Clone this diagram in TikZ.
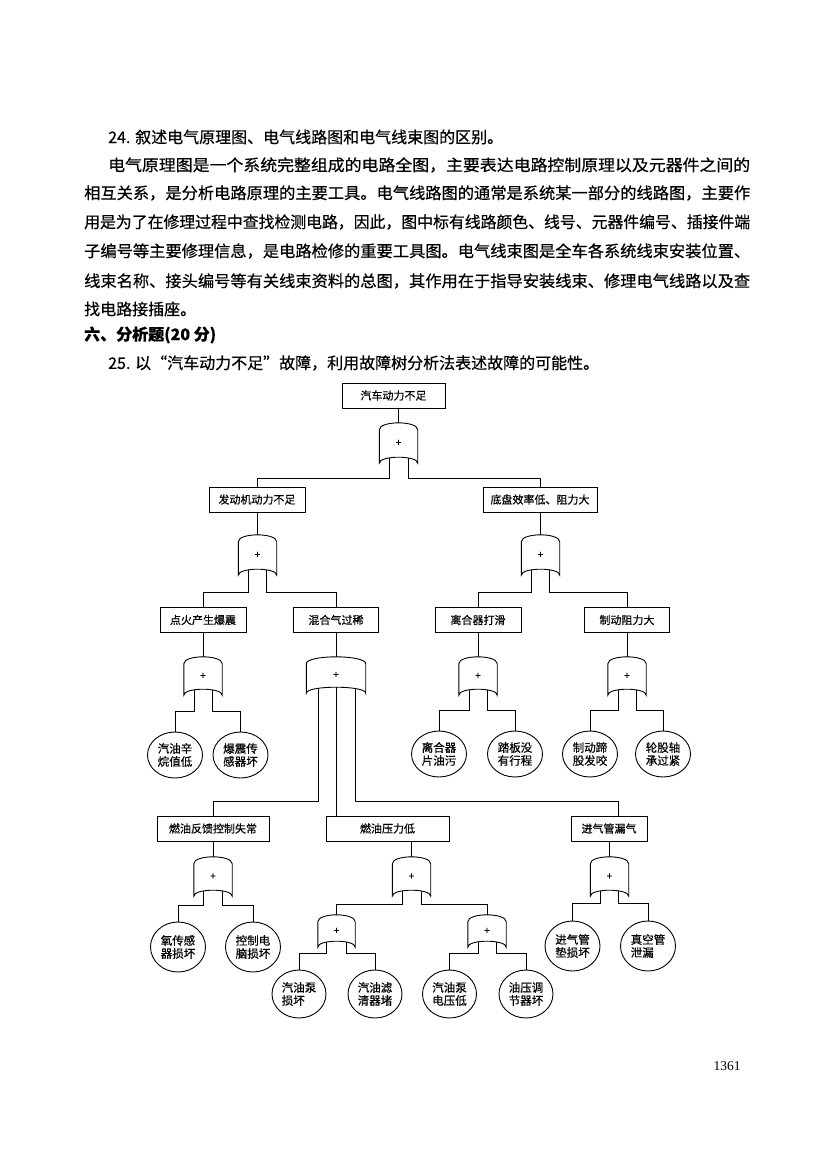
\documentclass[tikz,border=0pt]{standalone}
\usepackage{fontspec}
\usepackage{graphicx}
\setmainfont{Noto Sans CJK SC}[FakeBold=0.5]
\newfontfamily\serifnum{Liberation Serif}
\usetikzlibrary{shapes.geometric,calc}
\pgfdeclarelayer{bg}
\pgfdeclarelayer{gl}
\pgfsetlayers{bg,gl,main}
\tikzset{
  box/.style={draw, line width=1pt, minimum height=25pt, inner sep=0pt, font=\fontsize{11}{11}\selectfont},
  leaf/.style={draw, ellipse, line width=0.9pt, inner sep=0pt, align=left, minimum width=55pt, minimum height=46pt, font=\fontsize{11.5}{13}\selectfont},
  gatenode/.style={inner sep=0pt, minimum width=38pt, minimum height=40pt, font=\fontsize{10}{10}\selectfont},
  conn/.style={line width=0.9pt},
  para/.style={anchor=west, inner sep=0pt, font=\fontsize{16}{16}\selectfont},
}
\newcommand\gshape[1]{%
  \draw[line width=0.9pt, fill=white] ([yshift=-7pt]#1.north west)
    .. controls ([yshift=2.3pt]#1.north west) and ([yshift=2.3pt]#1.north east) .. ([yshift=-7pt]#1.north east)
    -- (#1.south east)
    .. controls ([yshift=8pt]#1.south east) and ([yshift=8pt]#1.south west) .. (#1.south west) -- cycle;}
\newcommand\branch[4]{\draw[conn] ([xshift=#2]#1.center) |- ([yshift=#4]#3.north) -- (#3.north);}
\newcommand\down[2]{\draw[conn] (#2.north |- #1.south) -- (#2.north);}
\begin{document}
\begin{tikzpicture}[x=1pt,y=-1pt]
\useasboundingbox (0,0) rectangle (837,1159);
\begin{pgfonlayer}{bg}
\fill[white] (0,0) rectangle (837,1159);
\end{pgfonlayer}

% ---------- text ----------
\node[para] (t1) at (108,137) {24. 叙述电气原理图、电气线路图和电气线束图的区别。};
\node[para] (t2) at (108,165) {\resizebox{642pt}{\height}{电气原理图是一个系统完整组成的电路全图，主要表达电路控制原理以及元器件之间的}};
\node[para] (t3) at (84,193) {\resizebox{666pt}{\height}{相互关系，是分析电路原理的主要工具。电气线路图的通常是系统某一部分的线路图，主要作}};
\node[para] (t4) at (84,222) {\resizebox{666pt}{\height}{用是为了在修理过程中查找检测电路，因此，图中标有线路颜色、线号、元器件编号、插接件端}};
\node[para] (t5) at (84,251) {\resizebox{666pt}{\height}{子编号等主要修理信息，是电路检修的重要工具图。电气线束图是全车各系统线束安装位置、}};
\node[para] (t6) at (84,281) {\resizebox{666pt}{\height}{线束名称、接头编号等有关线束资料的总图，其作用在于指导安装线束、修理电气线路以及查}};
\node[para] (t7) at (84,309) {找电路接插座。};
\node[para, font=\fontsize{16}{16}\selectfont\bfseries] (t8) at (84,335) {六、分析题(20 分)};
\node[para] (t9) at (108,363) {25. 以“汽车动力不足”故障，利用故障树分析法表述故障的可能性。};

% ---------- boxes ----------
\node[box, minimum width=103pt] (top) at (393.5,395.5) {汽车动力不足};
\node[box, minimum width=96pt] (A) at (257,499.5) {发动机动力不足};
\node[box, minimum width=114pt] (B) at (540,499.5) {底盘效率低、阻力大};
\node[box, minimum width=86pt] (A1) at (203,620) {点火产生爆震};
\node[box, minimum width=85pt] (A2) at (336,620) {混合气过稀};
\node[box, minimum width=86pt] (B1) at (478,620) {离合器打滑};
\node[box, minimum width=85pt] (B2) at (627,620) {制动阻力大};
\node[box, minimum width=112pt] (C1) at (213,828.5) {燃油反馈控制失常};
\node[box, minimum width=123pt] (C2) at (387.5,828.5) {燃油压力低};
\node[box, minimum width=76pt] (C3) at (609,828.5) {进气管漏气};

% ---------- gates ----------
\node[gatenode] (g0) at (398.5,443) {+};
\node[gatenode] (gA) at (257.5,555) {+};
\node[gatenode] (gB) at (540.5,555) {+};
\node[gatenode, minimum height=38pt] (gA1) at (203,676) {+};
\node[gatenode, minimum width=59pt, minimum height=36pt] (gA2) at (336,675) {+};
\node[gatenode, minimum height=38pt] (gB1) at (478,676) {+};
\node[gatenode, minimum height=38pt] (gB2) at (627,676) {+};
\node[gatenode, minimum height=39pt] (gC1) at (213,876.5) {+};
\node[gatenode, minimum height=39pt] (gC2) at (411.5,876.5) {+};
\node[gatenode, minimum height=39pt] (gC3) at (609.5,876.5) {+};
\node[gatenode, minimum width=37pt, minimum height=32pt] (gD1) at (336.5,931) {+};
\node[gatenode, minimum height=32pt] (gD2) at (487,931) {+};

% ---------- leaves ----------
\node[leaf] (E1) at (175,755) {汽油辛\\烷值低};
\node[leaf] (E2) at (240.5,755) {爆震传\\感器坏};
\node[leaf] (E3) at (439,754) {离合器\\片油污};
\node[leaf] (E4) at (515,754) {踏板没\\有行程};
\node[leaf] (E5) at (590,754) {制动蹄\\股发咬};
\node[leaf] (E6) at (663,754) {轮股轴\\承过紧};
\node[leaf, minimum height=50pt] (F1) at (178,947) {氧传感\\器损坏};
\node[leaf, minimum height=50pt] (F2) at (253,947) {控制电\\脑损坏};
\node[leaf, minimum height=50pt] (F5) at (572.5,946) {进气管\\垫损坏};
\node[leaf, minimum height=50pt] (F6) at (648,946) {真空管\\泄漏};
\node[leaf, minimum width=54pt, minimum height=48pt] (H1) at (299,994) {汽油泵\\损坏};
\node[leaf, minimum width=54pt, minimum height=48pt] (H2) at (375,994) {汽油滤\\清器堵};
\node[leaf, minimum width=54pt, minimum height=48pt] (H3) at (449.5,994) {汽油泵\\电压低};
\node[leaf, minimum width=54pt, minimum height=48pt] (H4) at (526,994) {油压调\\节器坏};

\node[font=\serifnum\fontsize{13.5}{13.5}\selectfont, inner sep=0pt] (pg) at (727,1066) {1361};

% ---------- gate outlines ----------
\begin{pgfonlayer}{gl}
\foreach \g in {g0,gA,gB,gA1,gA2,gB1,gB2,gC1,gC2,gC3,gD1,gD2} {\gshape{\g}}
\end{pgfonlayer}

% ---------- connectors ----------
\begin{pgfonlayer}{bg}
\down{top}{g0}
\branch{g0}{-9.5pt}{A}{8pt}
\branch{g0}{9.5pt}{B}{8pt}
\down{A}{gA}
\down{B}{gB}
\branch{gA}{-9pt}{A1}{15pt}
\branch{gA}{9pt}{A2}{15pt}
\branch{gB}{-9pt}{B1}{15pt}
\branch{gB}{9pt}{B2}{15pt}
\down{A1}{gA1}
\down{A2}{gA2}
\down{B1}{gB1}
\down{B2}{gB2}
\branch{gA1}{-9pt}{E1}{20pt}
\branch{gA1}{9pt}{E2}{20pt}
\branch{gB1}{-9pt}{E3}{20pt}
\branch{gB1}{9pt}{E4}{20pt}
\branch{gB2}{-9pt}{E5}{20pt}
\branch{gB2}{9pt}{E6}{20pt}
\branch{gA2}{-18pt}{C1}{14pt}
\draw[conn] (gA2.center) -- (gA2.center |- C2.north);
\draw[conn] ([xshift=19pt]gA2.center) |- ([xshift=9pt,yshift=14pt]C3.north) -- ([xshift=9pt]C3.north);
\down{C1}{gC1}
\down{C2}{gC2}
\down{C3}{gC3}
\branch{gC1}{-9.5pt}{F1}{16pt}
\branch{gC1}{9.5pt}{F2}{16pt}
\branch{gC2}{-9.5pt}{gD1}{10pt}
\branch{gC2}{9.5pt}{gD2}{10pt}
\branch{gC3}{-9pt}{F5}{17pt}
\branch{gC3}{9pt}{F6}{17pt}
\branch{gD1}{-10pt}{H1}{16pt}
\branch{gD1}{10pt}{H2}{16pt}
\branch{gD2}{-9pt}{H3}{16pt}
\branch{gD2}{9pt}{H4}{16pt}
\end{pgfonlayer}
\end{tikzpicture}
\end{document}
